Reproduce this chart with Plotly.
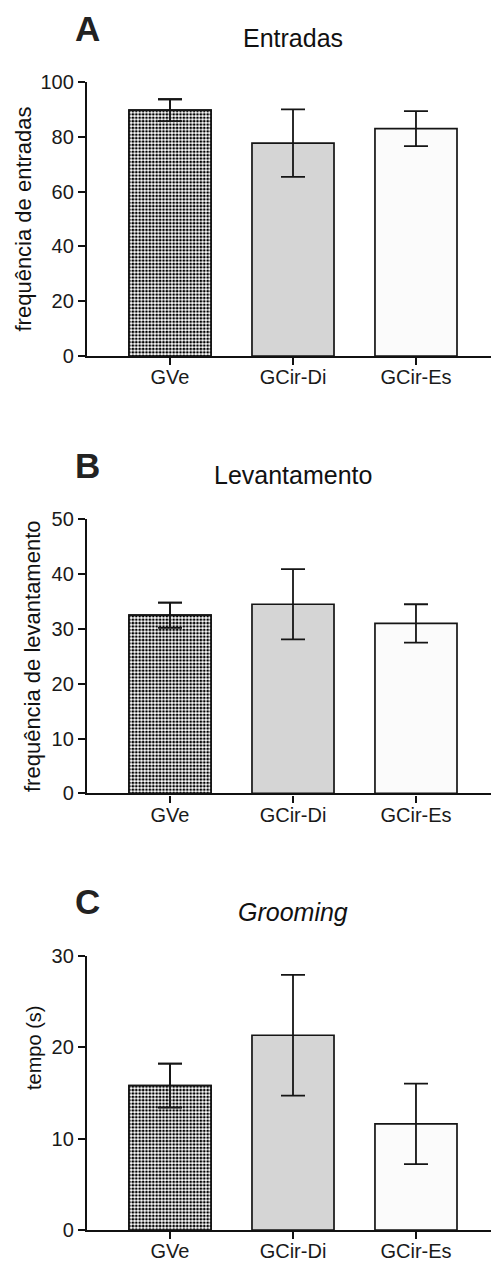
import plotly.graph_objects as go

# Groups and measured means / SEM for the three behavioural tests
groups = ["GVe", "GCir-Di", "GCir-Es"]

entradas_mean = [89.7, 77.7, 83.0]
entradas_err = [4.0, 12.3, 6.4]

levantamento_mean = [32.5, 34.5, 31.0]
levantamento_err = [2.3, 6.4, 3.5]

grooming_mean = [15.8, 21.3, 11.6]
grooming_err = [2.4, 6.6, 4.4]

panel_letters = ["A", "B", "C"]
panel_titles = ["Entradas", "Levantamento", "<i>Grooming</i>"]
y_titles = ["frequência de entradas", "frequência de levantamento", "tempo (s)"]
y_ranges = [(0, 100, 20), (0, 50, 10), (0, 30, 10)]

W, H = 491, 1261
FONT = "Liberation Sans, Arial, Helvetica, sans-serif"

# pixel layout of each panel (top, bottom of plotting area)
panel_px = [(82, 356), (519.3, 793.3), (955.7, 1230)]
x_left_px = 87
ytitle_x_px = [22.5, 32, 34]
ytitle_y_px = [219, 656, 1048]
ytitle_size = [22, 22, 20]

means = [entradas_mean, levantamento_mean, grooming_mean]
errs = [entradas_err, levantamento_err, grooming_err]

fill_colors = ["white", "#d5d5d5", "#fbfbfb"]
checker = dict(shape=".", size=3.4, solidity=0.5, fgcolor="black", bgcolor="white", fgopacity=1)

INK = "#151515"

fig = go.Figure()
layout = dict(
    width=W, height=H,
    margin=dict(l=0, r=0, t=0, b=0, pad=0, autoexpand=False),
    paper_bgcolor="white", plot_bgcolor="white",
    showlegend=False, barmode="overlay",
    font=dict(family=FONT, color="#1a1a1a"),
    annotations=[],
)

for i in range(3):
    n = "" if i == 0 else str(i + 1)
    top, bot = panel_px[i]
    err_style = dict(type="data", visible=True, thickness=1.8, width=12, color=INK)
    fig.add_trace(go.Bar(
        x=groups, y=means[i],
        width=0.667,
        marker=dict(color=fill_colors, line=dict(color=INK, width=1.7)),
        error_y=dict(array=errs[i], **err_style),
        xaxis="x" + n, yaxis="y" + n,
    ))
    # checkered fill for the vehicle group
    fig.add_trace(go.Bar(
        x=[groups[0]], y=[means[i][0]],
        width=0.667,
        marker=dict(color="white", pattern=checker, line=dict(color=INK, width=1.7)),
        error_y=dict(array=[errs[i][0]], **err_style),
        xaxis="x" + n, yaxis="y" + n,
    ))
    ymin, ymax, dtick = y_ranges[i]
    axis_common = dict(
        showline=True, linecolor="#111", linewidth=2.4,
        ticks="outside", ticklen=7, tickwidth=2.4, tickcolor="#111",
        tickfont=dict(size=20, family=FONT, color="#1a1a1a"),
        showgrid=False, zeroline=False, fixedrange=True, automargin=False,
    )
    layout["xaxis" + n] = dict(
        domain=[x_left_px / W, 1.0], anchor="y" + n,
        type="category", range=[-0.675, 2.61], ticklabelstandoff=-5,
        **axis_common,
    )
    layout["yaxis" + n] = dict(
        domain=[1 - bot / H, 1 - top / H], anchor="x" + n,
        range=[ymin, ymax], dtick=dtick, tick0=0, **axis_common,
    )
    layout["annotations"] += [
        dict(text=f"<b>{panel_letters[i]}</b>", x=73 / W, y=1 - (top - 54) / H,
             xref="paper", yref="paper", xanchor="left", yanchor="middle",
             showarrow=False, font=dict(size=35, family=FONT, color="#222")),
        dict(text=panel_titles[i], x=293 / W, y=1 - (top - 44) / H,
             xref="paper", yref="paper", xanchor="center", yanchor="middle",
             showarrow=False, font=dict(size=25, family=FONT, color="#111")),
        dict(text=y_titles[i], x=ytitle_x_px[i] / W, y=1 - ytitle_y_px[i] / H,
             xref="paper", yref="paper", xanchor="center", yanchor="middle",
             textangle=-90, showarrow=False,
             font=dict(size=ytitle_size[i], family=FONT, color="#111")),
    ]

fig.update_layout(**layout)
fig.write_html("out.html")
